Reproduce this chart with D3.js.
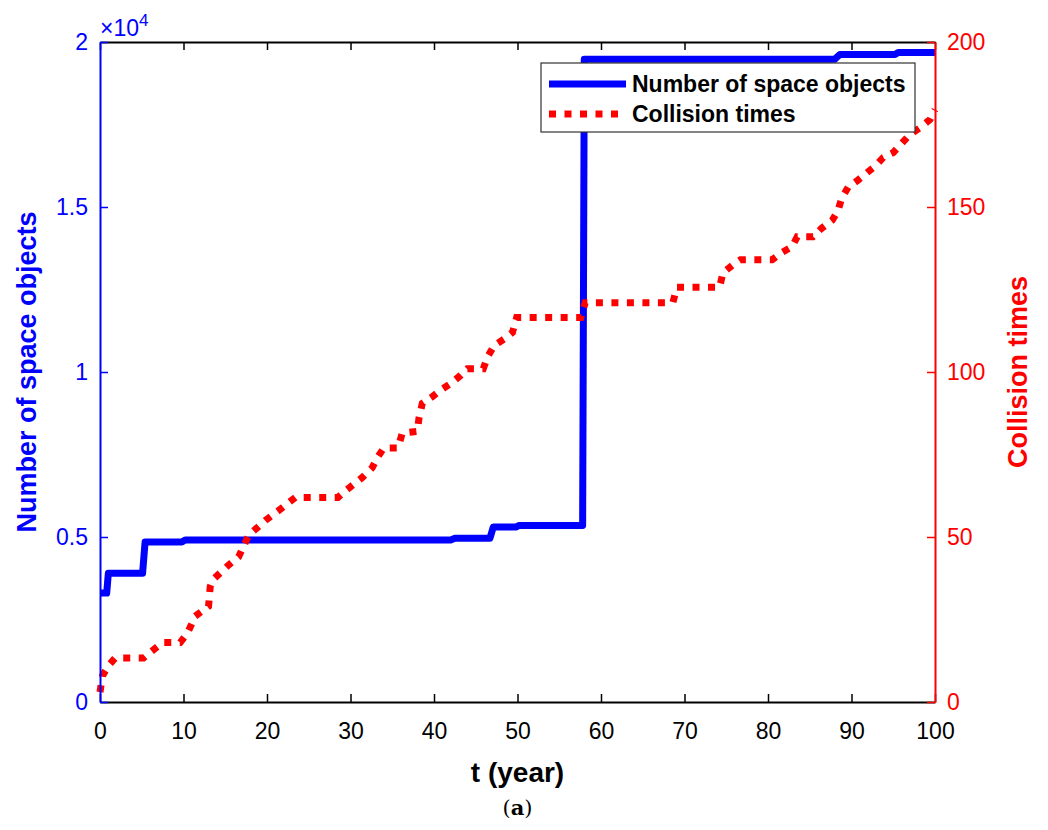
<!DOCTYPE html>
<html>
<head>
<meta charset="utf-8">
<script src="https://cdn.jsdelivr.net/npm/d3@7"></script>
<style>
  body { margin: 0; background: #fff; }
  svg { display: block; font-family: "Liberation Sans", Arial, sans-serif; }
</style>
</head>
<body>
<svg id="chart" width="1048" height="830"></svg>
<script>
// blue series: number of space objects
const objYears = [0, 0.8, 1.0, 5.1, 5.4, 9.8, 10.2, 42, 42.5, 46.7, 47.1, 49.8, 50.2, 57.8, 58.0, 88.0, 88.6, 95.2, 95.6, 100];
const objCounts = [3300, 3300, 3900, 3900, 4850, 4850, 4910, 4910, 4960, 4960, 5300, 5300, 5350, 5350, 19480, 19480, 19620, 19620, 19680, 19680];

// red series: collision times
const colYears = [0, 0.3, 1.0, 1.8, 5.2, 6.0, 7.5, 9.6, 10.5, 11.4, 13.0, 13.2, 13.5, 15.4, 16.6, 17.8, 19.8, 21.9, 23.4, 28.5,
  29.4, 31.4, 32.6, 33.2, 34.0, 35.7, 36.2, 38.0, 38.2, 38.6, 39.8, 40.8, 42.0, 43.2, 44.0, 45.9, 46.4, 47.2, 48.4, 49.4,
  49.9, 57.6, 58.1, 68.6, 69.1, 74.2, 74.6, 75.8, 76.7, 80.5, 81.5, 82.9, 83.5, 85.4, 86.4, 87.7, 88.4, 88.8, 89.6, 90.7,
  91.9, 92.9, 93.8, 95.0, 96.1, 97.0, 98.2, 99.4, 100];
const colTimes = [3, 8, 11, 13.3, 13.3, 15, 18, 18, 21, 26, 29, 35, 37, 41.5, 44, 50.5, 55, 59, 62, 62,
  64, 68, 71, 74, 77, 77, 81.5, 82, 86, 90.5, 92.5, 94.5, 96.5, 99, 101, 101, 104.5, 108, 110, 112,
  116.5, 116.5, 121, 121, 125.7, 125.7, 130, 132.5, 134, 134, 136, 138, 141, 141, 143.5, 146, 149, 152.5, 156, 158,
  160.5, 162.5, 165, 166.5, 169.5, 172, 174, 176.5, 179.5];

const xTicks = [0, 10, 20, 30, 40, 50, 60, 70, 80, 90, 100];
const leftTicks = [0, 5000, 10000, 15000, 20000];
const rightTicks = [0, 50, 100, 150, 200];
const seriesNames = ["Number of space objects", "Collision times"];

const margin = { top: 42, right: 113, bottom: 128, left: 100 },
      width = 1048 - margin.left - margin.right,
      height = 830 - margin.top - margin.bottom;

const BLUE = "#0000ff", RED = "#ff0000";

const svg = d3.select("#chart");
const g = svg.append("g").attr("transform", `translate(${margin.left},${margin.top})`);

const x = d3.scaleLinear().domain([0, 100]).range([0, width]);
const yL = d3.scaleLinear().domain([0, 20000]).range([height, 0]);
const yR = d3.scaleLinear().domain([0, 200]).range([height, 0]);

// lines
const objData = objYears.map((t, i) => ({ t, v: objCounts[i] }));
const colData = colYears.map((t, i) => ({ t, v: colTimes[i] }));

g.append("path")
  .datum(objData)
  .attr("fill", "none")
  .attr("stroke", BLUE)
  .attr("stroke-width", 7)
  .attr("stroke-linejoin", "round")
  .attr("d", d3.line().x(d => x(d.t)).y(d => yL(d.v)));

g.append("path")
  .datum(colData)
  .attr("fill", "none")
  .attr("stroke", RED)
  .attr("stroke-width", 7)
  .attr("stroke-dasharray", "7,8.5")
  .attr("d", d3.line().x(d => x(d.t)).y(d => yR(d.v)));

// axes (MATLAB style: ticks pointing in)
const bottomAx = g.append("g")
  .attr("transform", `translate(0,${height})`)
  .call(d3.axisBottom(x).tickValues(xTicks).tickSizeInner(-8).tickSizeOuter(0).tickPadding(21));
bottomAx.select(".domain").attr("stroke", "#000").attr("stroke-width", 2);
bottomAx.selectAll(".tick line").attr("stroke", "#000").attr("stroke-width", 1.5);
bottomAx.selectAll("text").style("font-size", "23px").attr("fill", "#000");

const topAx = g.append("g")
  .call(d3.axisTop(x).tickValues(xTicks).tickSizeInner(-8).tickSizeOuter(0).tickFormat(""));
topAx.select(".domain").attr("stroke", "#000").attr("stroke-width", 2);
topAx.selectAll(".tick line").attr("stroke", "#000").attr("stroke-width", 1.5);

const leftAx = g.append("g")
  .call(d3.axisLeft(yL).tickValues(leftTicks).tickSizeInner(-8).tickSizeOuter(0).tickPadding(12)
    .tickFormat(d => d3.format("~g")(d / 10000)));
leftAx.select(".domain").attr("stroke", BLUE).attr("stroke-width", 2);
leftAx.selectAll(".tick line").attr("stroke", BLUE).attr("stroke-width", 1.5);
leftAx.selectAll("text").style("font-size", "23px").attr("fill", BLUE);

const rightAx = g.append("g")
  .attr("transform", `translate(${width},0)`)
  .call(d3.axisRight(yR).tickValues(rightTicks).tickSizeInner(-8).tickSizeOuter(0).tickPadding(12));
rightAx.select(".domain").attr("stroke", RED).attr("stroke-width", 2);
rightAx.selectAll(".tick line").attr("stroke", RED).attr("stroke-width", 1.5);
rightAx.selectAll("text").style("font-size", "23px").attr("fill", RED);

// exponent label
const expo = g.append("text")
  .attr("x", 0)
  .attr("y", -6)
  .attr("fill", BLUE)
  .style("font-size", "23px");
expo.append("tspan").text("\u00d710");
expo.append("tspan").attr("dy", -10).style("font-size", "17px").text("4");

// axis titles
g.append("text")
  .attr("x", width / 2)
  .attr("y", height + 80)
  .attr("text-anchor", "middle")
  .style("font-size", "28px")
  .style("font-weight", "bold")
  .text("t (year)");

g.append("text")
  .attr("transform", "rotate(-90)")
  .attr("x", -height / 2)
  .attr("y", -64)
  .attr("text-anchor", "middle")
  .style("font-size", "27px")
  .style("font-weight", "bold")
  .attr("fill", BLUE)
  .text("Number of space objects");

g.append("text")
  .attr("transform", "rotate(-90)")
  .attr("x", -height / 2)
  .attr("y", width + 92)
  .attr("text-anchor", "middle")
  .style("font-size", "27px")
  .style("font-weight", "bold")
  .attr("fill", RED)
  .text("Collision times");

// sub caption
svg.append("text")
  .attr("x", margin.left + width / 2)
  .attr("y", 815)
  .attr("text-anchor", "middle")
  .style("font-family", "'DejaVu Serif', 'Liberation Serif', serif")
  .style("font-size", "21px")
  .text("(")
  .append("tspan").style("font-weight", "bold").text("a")
  .append("tspan").style("font-weight", "normal").text(")");

// legend
const legend = g.append("g").attr("transform", `translate(${441},${21})`);
legend.append("rect")
  .attr("width", 374).attr("height", 69)
  .attr("fill", "#fff").attr("stroke", "#333").attr("stroke-width", 1.2);
const legendStyles = [
  { color: BLUE, dash: null },
  { color: RED, dash: "7,8.5" }
];
seriesNames.forEach((name, i) => {
  const yy = 21 + i * 30;
  legend.append("line")
    .attr("x1", 8).attr("x2", 85).attr("y1", yy).attr("y2", yy)
    .attr("stroke", legendStyles[i].color).attr("stroke-width", 7)
    .attr("stroke-dasharray", legendStyles[i].dash);
  legend.append("text")
    .attr("x", 91).attr("y", yy + 8)
    .style("font-size", "23px").style("font-weight", "bold")
    .text(name);
});
</script>
</body>
</html>
